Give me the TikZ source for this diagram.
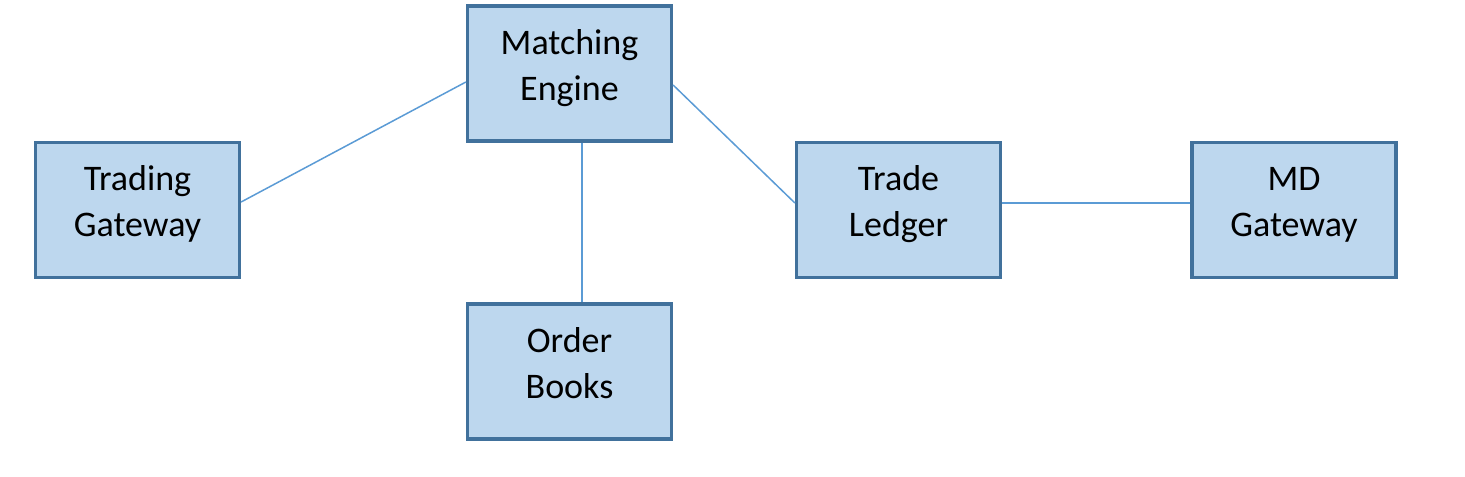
\documentclass[tikz,border=0pt]{standalone}
\usepackage{fontspec}
\setmainfont{Carlito}
\definecolor{boxfill}{HTML}{BDD7EE}
\definecolor{boxline}{HTML}{41719C}
\definecolor{conn}{HTML}{5B9BD5}
\tikzset{
  compbox/.style={draw=boxline, fill=boxfill, line width=1.6pt,
    minimum width=102pt, minimum height=67.5pt, inner sep=0pt},
  boxtext/.style={anchor=north, yshift=-11.75pt, align=center, inner sep=0pt,
    font=\fontsize{18}{23}\selectfont},
  link/.style={draw=conn, line width=0.75pt}
}
\begin{document}
\begin{tikzpicture}[x=0.5pt,y=-0.5pt]
\useasboundingbox (0,0) rectangle (1465,476);
\node[compbox, label={[boxtext, name=met]north:\rule{0pt}{13pt}Matching\\Engine}] (me) at (569.5,73.5) {};
\node[compbox, label={[boxtext, name=tgt]north:\rule{0pt}{13pt}Trading\\Gateway}] (tg) at (137.5,210) {};
\node[compbox, label={[boxtext, name=obt]north:\rule{0pt}{13pt}Order\\Books}] (ob) at (569.5,371.5) {};
\node[compbox, label={[boxtext, name=tlt]north:\rule{0pt}{13pt}Trade\\Ledger}] (tl) at (898.5,210) {};
\node[compbox, label={[boxtext, name=mdt]north:\rule{0pt}{13pt}MD\\Gateway}] (md) at (1294,210) {};
\draw[link] ([yshift=4pt]tg.east) -- ([yshift=-4.25pt]me.west);
\draw[link] ([xshift=6.25pt]me.south) -- ([xshift=6.25pt]ob.north);
\draw[link] ([yshift=-5.75pt]me.east) -- ([yshift=3.5pt]tl.west);
\draw[link] ([yshift=3.5pt]tl.east) -- ([yshift=3.5pt]md.west);
\end{tikzpicture}
\end{document}
